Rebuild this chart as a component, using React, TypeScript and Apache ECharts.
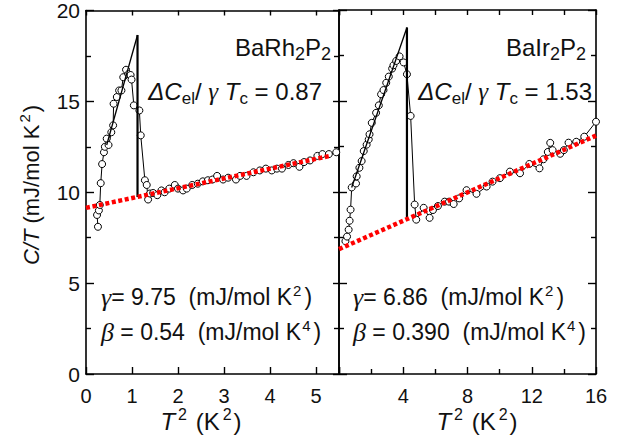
import React, { useEffect, useRef } from "react";
import * as echarts from "echarts";

// BaRh2P2 (left panel): T^2 (K^2) vs C/T (mJ/mol K^2)
const rhT2 = [0.26, 0.24, 0.28, 0.3, 0.32, 0.35, 0.39, 0.41, 0.45, 0.49, 0.55, 0.59, 0.6, 0.67, 0.72, 0.77, 0.81, 0.87, 0.92, 0.97, 0.99, 1.04, 1.16, 1.19, 1.28, 1.32, 1.35, 1.39, 1.46, 1.55, 1.64, 1.71, 1.81, 1.93, 2.0, 2.11, 2.19, 2.31, 2.43, 2.54, 2.65, 2.75, 2.85, 2.98, 3.09, 3.26, 3.35, 3.49, 3.64, 3.78, 3.91, 4.04, 4.15, 4.26, 4.4, 4.51, 4.64, 4.74, 4.87, 5.03, 5.14, 5.28, 5.44];
const rhCT = [8.1, 8.75, 9.0, 9.3, 10.5, 11.55, 12.2, 12.5, 12.95, 12.6, 13.3, 13.68, 14.87, 15.24, 15.6, 15.6, 16.33, 16.74, 16.5, 16.45, 16.2, 14.78, 14.5, 13.13, 10.66, 10.4, 9.6, 9.93, 9.96, 9.84, 10.1, 10.0, 10.2, 10.4, 10.2, 10.1, 10.2, 10.4, 10.47, 10.6, 10.66, 10.7, 10.9, 10.7, 10.8, 10.7, 10.9, 10.9, 11.1, 11.2, 11.3, 11.2, 11.3, 11.3, 11.5, 11.6, 11.4, 11.66, 11.75, 12.0, 12.1, 12.1, 12.2];
const rhFitT2 = [0.45, 1.12];
const rhFitCT = [12.6, 18.65];
const rhJumpT2 = [1.12, 1.12];
const rhJumpCT = [18.65, 9.74];
const rhNormalT2 = [0, 5.3];
const rhNormalCT = [9.14, 12.0];

// BaIr2P2 (right panel)
const irT2 = [0.4, 0.5, 0.6, 0.66, 0.72, 0.79, 1.06, 1.1, 1.27, 1.41, 1.54, 1.72, 1.85, 1.9, 2.04, 2.31, 2.48, 2.62, 2.77, 2.94, 3.1, 3.31, 3.39, 3.56, 3.77, 4.02, 4.23, 4.46, 4.71, 4.81, 5.27, 5.64, 5.85, 6.16, 6.58, 6.85, 7.14, 7.48, 7.94, 8.56, 9.19, 9.56, 10.02, 10.64, 11.27, 11.85, 12.48, 12.73, 13.0, 13.15, 13.3, 13.77, 14.0, 14.29, 14.77, 15.27, 16.0];
const irCT = [7.3, 7.55, 7.93, 8.42, 9.03, 10.25, 10.47, 10.86, 11.33, 11.7, 12.25, 12.6, 12.89, 13.17, 13.8, 14.35, 14.76, 15.37, 15.6, 16.0, 16.34, 16.78, 16.96, 17.2, 17.45, 17.12, 16.47, 14.18, 9.31, 8.48, 9.13, 8.58, 9.01, 9.23, 9.47, 9.47, 9.34, 9.65, 10.1, 9.9, 10.3, 10.57, 10.76, 11.12, 11.03, 11.54, 11.3, 11.8, 12.2, 12.7, 12.3, 12.1, 12.3, 12.71, 12.76, 13.04, 13.86];
const irFitT2 = [0.79, 4.23];
const irFitCT = [10.25, 19.04];
const irJumpT2 = [4.23, 4.23];
const irJumpCT = [19.04, 8.5];
const irNormalT2 = [0, 16];
const irNormalCT = [6.86, 13.1];

const yTicks = { min: 0, max: 20, interval: 5 };
const leftX = { min: 0, max: 5.5, interval: 1 };
const rightX = { min: 0, max: 16, interval: 4 };

const zip = (a: number[], b: number[]) => a.map((v, i) => [v, b[i]]);

const SANS = "Liberation Sans, Arial, sans-serif";
const SERIF = "Liberation Serif, Times New Roman, serif";
const INK = "#111";

export default function App() {
  const ref = useRef<HTMLDivElement>(null);
  useEffect(() => {
    if (!ref.current) return;
    const chart = echarts.init(ref.current, undefined, { renderer: "svg" });

    const line = { lineStyle: { color: "#000", width: 1.6 } };
    const baseX = (grid: number, pos: string, ext: any, extra: any = {}) => ({
      type: "value",
      gridIndex: grid,
      position: pos,
      min: ext.min,
      max: ext.max,
      interval: ext.interval,
      axisLine: { show: true, onZero: false, ...line },
      axisTick: { show: true, inside: true, length: 7, lineStyle: { color: "#000", width: 1.4 } },
      axisLabel: { show: false },
      splitLine: { show: false },
      ...extra,
    });
    const baseY = (grid: number, pos: string, extra: any = {}) => ({
      type: "value",
      gridIndex: grid,
      position: pos,
      min: yTicks.min,
      max: yTicks.max,
      interval: yTicks.interval,
      axisLine: { show: true, onZero: false, ...line },
      axisTick: { show: true, inside: true, length: 8, lineStyle: { color: "#000", width: 1.4 } },
      minorTick: { show: true, splitNumber: 2, length: 5, lineStyle: { color: "#000", width: 1.4 } },
      axisLabel: { show: false },
      splitLine: { show: false },
      minorSplitLine: { show: false },
      ...extra,
    });

    const tickLabel = { fontSize: 20, fontFamily: SANS, color: INK };

    const dataSeries = (xs: number[], ys: number[], idx: number) => ({
      type: "line",
      xAxisIndex: idx,
      yAxisIndex: idx,
      data: zip(xs, ys),
      symbol: "circle",
      symbolSize: 7,
      showSymbol: true,
      itemStyle: { color: "#fff", borderColor: "#000", borderWidth: 1 },
      lineStyle: { color: "#000", width: 1 },
      z: 3,
    });
    const fitSeries = (xs: number[], ys: number[], idx: number, w: number) => ({
      type: "line",
      xAxisIndex: idx,
      yAxisIndex: idx,
      data: zip(xs, ys),
      symbol: "none",
      lineStyle: { color: "#000", width: w },
      z: 4,
    });
    const normalSeries = (xs: number[], ys: number[], idx: number) => ({
      type: "line",
      xAxisIndex: idx,
      yAxisIndex: idx,
      data: zip(xs, ys),
      symbol: "none",
      lineStyle: { color: "#ff0000", width: 4.5, type: [4, 2.6] },
      z: 5,
    });

    const rich = {
      // top-right labels
      n: { fontSize: 24, fontFamily: SANS, fill: INK, lineHeight: 32, verticalAlign: "middle" },
      i: { fontSize: 24, fontFamily: SANS, fontStyle: "italic", fill: INK, lineHeight: 32, verticalAlign: "middle" },
      g: { fontSize: 25, fontFamily: SERIF, fontStyle: "italic", fill: INK, lineHeight: 32, verticalAlign: "middle" },
      s: { fontSize: 17, fontFamily: SANS, fill: INK, lineHeight: 17, verticalAlign: "bottom" },
      f: { fontSize: 18, fontFamily: SANS, fill: INK, lineHeight: 18, verticalAlign: "bottom" },
      // bottom parameter labels
      m: { fontSize: 23, fontFamily: SANS, fill: INK, lineHeight: 28, verticalAlign: "middle" },
      h: { fontSize: 26, fontFamily: SERIF, fontStyle: "italic", fill: INK, lineHeight: 28, verticalAlign: "middle" },
      p: { fontSize: 15, fontFamily: SANS, fill: INK, lineHeight: 15, verticalAlign: "top", padding: [0, 3, 0, 1] },
      // axis titles
      a: { fontSize: 24, fontFamily: SANS, fill: INK, lineHeight: 30, verticalAlign: "middle" },
      ai: { fontSize: 24, fontFamily: SANS, fontStyle: "italic", fill: INK, lineHeight: 30, verticalAlign: "middle" },
      ap: { fontSize: 16, fontFamily: SANS, fill: INK, lineHeight: 16, verticalAlign: "top", padding: [0, 2, 0, 3] },
      yt: { fontSize: 22, fontFamily: SANS, fill: INK, lineHeight: 28, verticalAlign: "middle" },
      yti: { fontSize: 22, fontFamily: SANS, fontStyle: "italic", fill: INK, lineHeight: 28, verticalAlign: "middle" },
      ytp: { fontSize: 15, fontFamily: SANS, fill: INK, lineHeight: 15, verticalAlign: "top", padding: [0, 2, 0, 2] },
    };
    const txt = (x: number, y: number, text: string, align: string, rotation = 0) => ({
      type: "text",
      x,
      y,
      rotation,
      z: 10,
      style: { text, align, verticalAlign: "middle", rich },
    });

    chart.setOption({
      animation: false,
      backgroundColor: "#fff",
      grid: [
        { left: 86, top: 10, width: 253, height: 364 },
        { left: 339, top: 10, width: 257, height: 364 },
      ],
      xAxis: [
        baseX(0, "bottom", leftX, {
          axisLabel: {
            show: true,
            margin: 12,
            ...tickLabel,
            formatter: (v: number) => (Number.isInteger(v) ? String(v) : ""),
          },
        }),
        baseX(0, "top", leftX, { axisTick: { show: true, inside: true, length: 5, lineStyle: { color: "#000", width: 1.4 } } }),
        baseX(1, "bottom", rightX, {
          minorTick: { show: true, splitNumber: 2, length: 5, lineStyle: { color: "#000", width: 1.4 } },
          axisLabel: {
            show: true,
            margin: 12,
            ...tickLabel,
            formatter: (v: number) => (v === 0 ? "" : String(v)),
          },
        }),
        baseX(1, "top", { min: 0, max: 16, interval: 2 }, { axisTick: { show: true, inside: true, length: 5, lineStyle: { color: "#000", width: 1.4 } } }),
      ],
      yAxis: [
        baseY(0, "left", { axisLabel: { show: true, margin: 6, fontSize: 21, fontFamily: SANS, color: INK } }),
        baseY(0, "right", { axisTick: { show: true, inside: true, length: 6, lineStyle: { color: "#000", width: 1.4 } } }),
        baseY(1, "left"),
        baseY(1, "right"),
      ],
      series: [
        dataSeries(rhT2, rhCT, 0),
        fitSeries(rhFitT2, rhFitCT, 0, 1.3),
        fitSeries(rhJumpT2, rhJumpCT, 0, 2.2),
        normalSeries(rhNormalT2, rhNormalCT, 0),
        dataSeries(irT2, irCT, 2),
        fitSeries(irFitT2, irFitCT, 2, 1.3),
        fitSeries(irJumpT2, irJumpCT, 2, 2.2),
        normalSeries(irNormalT2, irNormalCT, 2),
      ],
      graphic: [
        txt(331, 47, "{n|BaRh}{f|2}{n|P}{f|2}", "right"),
        txt(322, 91, "{i|ΔC}{s|el}{n|/ }{g|γ}{n| }{i|T}{s|c}{n| = 0.87}", "right"),
        txt(586, 47, "{n|BaIr}{f|2}{n|P}{f|2}", "right"),
        txt(592, 91, "{i|ΔC}{s|el}{n|/ }{g|γ}{n| }{i|T}{s|c}{n| = 1.53}", "right"),
        txt(101, 297, "{h|γ}{m|= 9.75  (mJ/mol K}{p|2}{m|)}", "left"),
        txt(101, 332, "{h|β}{m| = 0.54  (mJ/mol K}{p|4}{m|)}", "left"),
        txt(353, 297, "{h|γ}{m|= 6.86  (mJ/mol K}{p|2}{m|)}", "left"),
        txt(353, 332, "{h|β}{m| = 0.390  (mJ/mol K}{p|4}{m|)}", "left"),
        txt(201, 421, "{ai|T}{ap|2}{a| (K}{ap|2}{a|)}", "center"),
        txt(477, 421, "{ai|T}{ap|2}{a| (K}{ap|2}{a|)}", "center"),
        txt(31, 185, "{yti|C/T}{yt| (mJ/mol K}{ytp|2}{yt|)}", "center", Math.PI / 2),
      ],
    });
    return () => chart.dispose();
  }, []);
  return (
    <div
      ref={ref}
      style={{ position: "fixed", left: 0, top: 0, width: 624, height: 437, background: "#fff" }}
    />
  );
}
